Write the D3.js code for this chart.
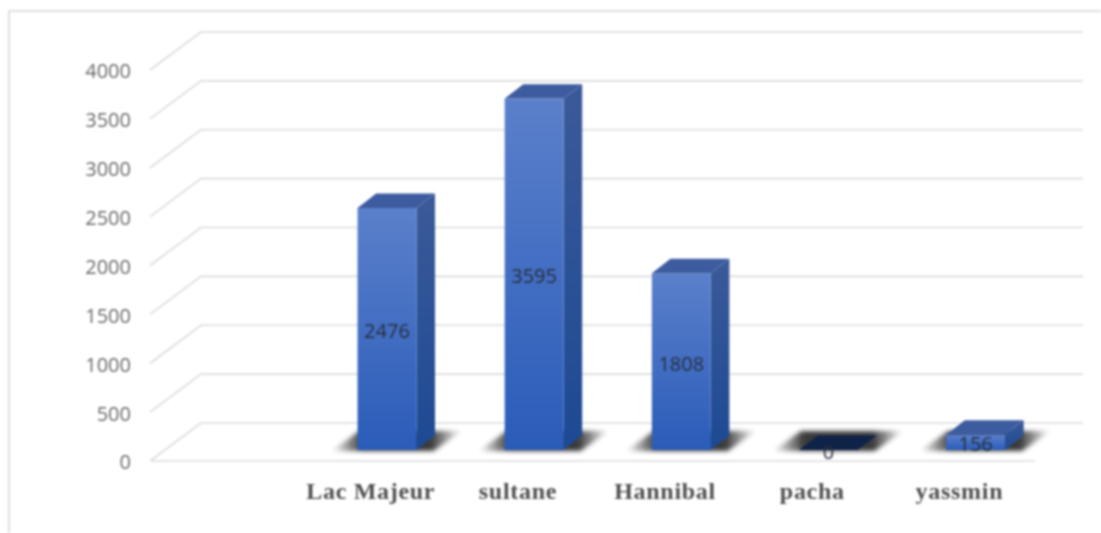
<!DOCTYPE html>
<html lang="en">
<head>
    <meta charset="UTF-8">
    <title>Bar chart 3D</title>
    <script src="https://d3js.org/d3.v7.min.js"></script>
    <style>
        html, body { margin: 0; padding: 0; background: #fff; }
        svg { display: block; filter: blur(0.8px); }
        .val-tick text { font-family: "Open Sans", sans-serif; font-size: 20px; fill: #686868; }
        .cat-tick text { font-family: "Liberation Serif", serif; font-weight: bold; font-size: 24px; letter-spacing: 0.7px; fill: #505050; }
        .bar-label { font-family: "Open Sans", sans-serif; font-size: 20px; fill: #262e3c; text-anchor: middle; }
    </style>
</head>
<body>
    <svg id="chart" width="1101" height="533"></svg>

    <script>
        // chart values
        const categories = ["", "Lac Majeur", "sultane", "Hannibal", "pacha", "yassmin"];
        const values = [null, 2476, 3595, 1808, 0, 156];
        const valueTicks = [0, 500, 1000, 1500, 2000, 2500, 3000, 3500, 4000];

        const svg = d3.select("#chart");

        // front plane of the 3D box, depth goes up and to the right
        const depthX = 49, depthY = -38;
        const barNear = 0.29, barFar = 0.67;

        const x = d3.scaleBand().domain(categories.map((d, i) => i))
            .range([152, 1035]).paddingInner(0.6).paddingOuter(0.3);
        const y = d3.scaleLinear().domain([0, 4000]).range([461, 70]);

        const defs = svg.append("defs");

        function gradient(id, top, bottom) {
            const g = defs.append("linearGradient").attr("id", id)
                .attr("x1", 0).attr("y1", 0).attr("x2", 0).attr("y2", 1);
            g.append("stop").attr("offset", "0%").attr("stop-color", top);
            g.append("stop").attr("offset", "100%").attr("stop-color", bottom);
        }
        gradient("face", "#5b80cb", "#2a5cb9");
        gradient("side", "#3b5a99", "#1d4a94");

        // shadow fades out towards its left and right tips
        const fade = defs.append("linearGradient").attr("id", "shadowFade");
        [[0, 0], [0.24, 0.9], [0.76, 0.9], [1, 0]].forEach(s => {
            fade.append("stop").attr("offset", s[0]).attr("stop-color", "#222").attr("stop-opacity", s[1]);
        });

        defs.append("filter").attr("id", "shadowBlur")
            .attr("x", "-30%").attr("y", "-80%").attr("width", "160%").attr("height", "260%")
            .append("feGaussianBlur").attr("stdDeviation", 2);

        // outer frame
        svg.append("path")
            .attr("d", "M9,533V11H1101")
            .attr("fill", "none").attr("stroke", "#d6d6d6").attr("stroke-width", 1.6);

        // gridlines: back wall and left wall
        const grid = svg.append("g").attr("fill", "none").attr("stroke", "#dcdcdc").attr("stroke-width", 1.7);
        grid.selectAll("path").data(valueTicks).enter().append("path")
            .attr("d", d => `M${x.range()[0] - 2},${y(d)}L${x.range()[0] + depthX},${y(d) + depthY}H${x.range()[1] + depthX - 1}`);
        // front edge of the floor
        grid.append("line")
            .attr("x1", x.range()[0]).attr("x2", x.range()[1])
            .attr("y1", y(0)).attr("y2", y(0));

        // value axis
        svg.append("g").attr("class", "val-tick")
            .attr("transform", "translate(139,1.5)")
            .call(d3.axisLeft(y).tickValues(valueTicks).tickFormat(d3.format("d")).tickSize(0).tickPadding(8))
            .call(g => g.select(".domain").remove());

        // category axis
        svg.append("g").attr("class", "cat-tick")
            .attr("transform", "translate(-2,478)")
            .call(d3.axisBottom(x).tickFormat(i => categories[i]).tickSize(0).tickPadding(4))
            .call(g => g.select(".domain").remove());

        const rows = values.map((v, i) => ({ i, v })).filter(d => d.v !== null);

        const nx = depthX * barNear, ny = depthY * barNear;
        const fx = depthX * barFar, fy = depthY * barFar;
        const poly = pts => "M" + pts.map(p => p.join(",")).join("L") + "Z";

        // soft shadow lying on the floor
        svg.append("g").selectAll("path").data(rows).enter().append("path")
            .attr("d", d => {
                const l = x(d.i) + nx, b = y(0) + ny;
                return poly([[l - 26, b + 1], [l + 76, b + 1], [l + 104, b - 19], [l + 2, b - 19]]);
            })
            .attr("fill", "url(#shadowFade)").attr("filter", "url(#shadowBlur)");

        const bars = svg.append("g").selectAll("g").data(rows).enter().append("g");

        // right side
        bars.filter(d => d.v > 0).append("path")
            .attr("d", d => {
                const r = x(d.i) + x.bandwidth();
                return poly([[r + nx, y(d.v) + ny], [r + fx, y(d.v) + fy], [r + fx, y(0) + fy], [r + nx, y(0) + ny]]);
            })
            .attr("fill", "url(#side)");

        // front face
        bars.filter(d => d.v > 0).append("rect")
            .attr("x", d => x(d.i) + nx)
            .attr("y", d => y(d.v) + ny)
            .attr("width", x.bandwidth())
            .attr("height", d => y(0) - y(d.v))
            .attr("fill", "url(#face)");

        // top, the zero bar only has this one and it sits in the shadow
        bars.append("path")
            .attr("d", d => {
                const l = x(d.i), r = l + x.bandwidth();
                return poly([[l + nx, y(d.v) + ny], [l + fx, y(d.v) + fy], [r + fx, y(d.v) + fy], [r + nx, y(d.v) + ny]]);
            })
            .attr("fill", d => d.v > 0 ? "#3d5c9f" : "#0f2248");

        // data labels
        svg.append("g").selectAll("text").data(rows).enter().append("text")
            .attr("class", "bar-label")
            .attr("x", d => x(d.i) + nx + x.bandwidth() / 2)
            .attr("y", d => (y(d.v) + y(0)) / 2 + ny + 9)
            .text(d => d.v);
    </script>
</body>
</html>
